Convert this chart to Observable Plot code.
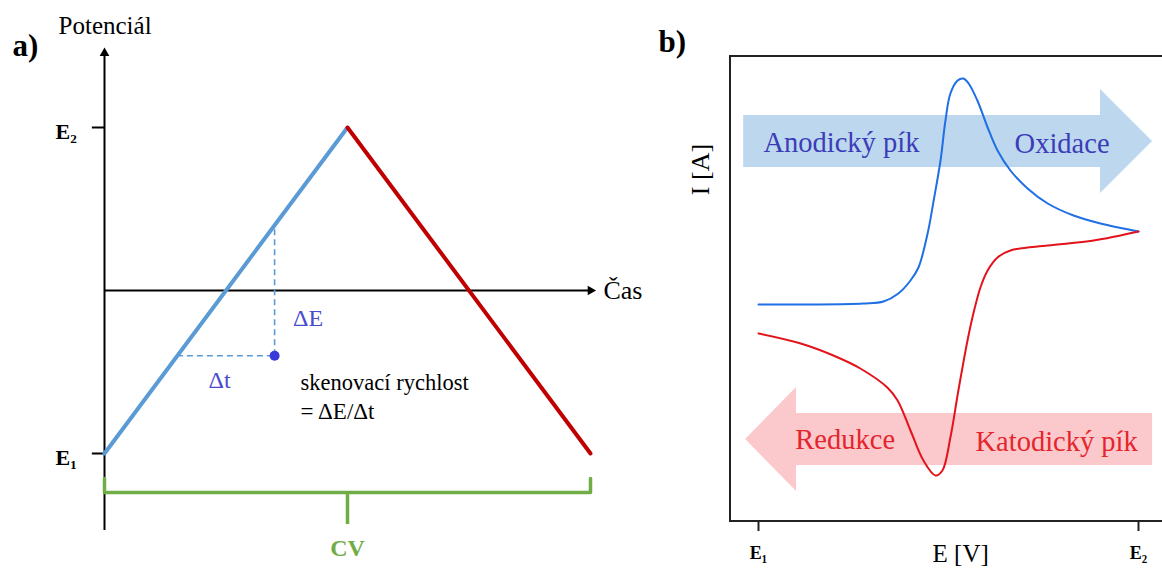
<!DOCTYPE html>
<html><head><meta charset="utf-8">
<script src="https://cdn.jsdelivr.net/npm/d3@7"></script>
<script src="https://cdn.jsdelivr.net/npm/@observablehq/plot@0.6"></script>
<style>
html,body{margin:0;padding:0;background:#fff;overflow:hidden;}
#wrap{position:relative;width:1162px;height:568px;}
#a,#b{position:absolute;top:0;}
#a{left:0;} #b{left:660px;}
#wrap svg{overflow:visible;max-width:none;font-family:"Liberation Serif",serif;}
</style></head><body><div id="wrap"><div id="a"></div><div id="b"></div></div>
<script>
// ---- panel a: potential waveform ----
const sweepTime = [0, 1, 2];
const sweepPotential = [0, 1, 0];          // E1 -> E2 -> E1
const potentialTicks = [0, 1];
const potentialTickLabels = ["E₁", "E₂"];
const slopeTime = [0.3, 0.7];              // Δt
const slopePotential = [0.3, 0.7];         // ΔE
const timeAxisLevel = 0.5;

// ---- panel b: cyclic voltammogram ----
const cvForwardE = [0, 0.137, 0.276, 0.329, 0.368, 0.4, 0.421, 0.445, 0.461, 0.479, 0.492, 0.505, 0.524, 0.539, 0.553, 0.576, 0.603, 0.629, 0.663, 0.708, 0.761, 0.829, 0.9, 1.0];
const cvForwardI = [-0.15, -0.15, -0.14, -0.12, -0.04, 0.09, 0.22, 0.56, 0.89, 1.29, 1.69, 1.96, 2.09, 2.11, 2.06, 1.89, 1.62, 1.39, 1.19, 1.01, 0.86, 0.74, 0.66, 0.58];
const cvReverseE = [1.0, 0.882, 0.761, 0.663, 0.629, 0.603, 0.584, 0.563, 0.55, 0.526, 0.505, 0.484, 0.466, 0.434, 0.4, 0.366, 0.339, 0.268, 0.197, 0.111, 0];
const cvReverseI = [0.58, 0.49, 0.44, 0.39, 0.32, 0.19, 0.02, -0.28, -0.51, -1.01, -1.48, -1.81, -1.86, -1.71, -1.41, -1.11, -0.98, -0.79, -0.66, -0.54, -0.44];
const cvTicks = [0, 1];
const cvTickLabels = ["E₁", "E₂"];

const serif = "Liberation Serif";
const lineBlue = "#5b9bd5", lineRed = "#c00000", green = "#70ad47";

const sweep = sweepTime.map((t, i) => ({t, E: sweepPotential[i]}));
const rise = sweep.slice(0, 2), fall = sweep.slice(1, 3);
const T = (opts) => ({fontFamily: serif, ...opts});

const plotA = Plot.plot({
  width: 660, height: 568,
  x: {domain: [0, 2], range: [104, 590], axis: null},
  y: {domain: [0, 1], range: [453, 127], axis: null},
  style: {background: "white"},
  marks: [
    // axes
    Plot.ruleX([0], {y1: -0.236, y2: 1.225, stroke: "black", strokeWidth: 2}),
    Plot.dot([0], {x: 0, y: 1.228, symbol: "triangle", r: 3.6, fill: "black", stroke: "none"}),
    Plot.ruleY([timeAxisLevel], {x1: 0, x2: 1.995, stroke: "black", strokeWidth: 2}),
    Plot.dot([0], {x: 2.0, y: timeAxisLevel, symbol: "triangle", r: 3.6, rotate: 90, fill: "black", stroke: "none"}),
    Plot.ruleY(potentialTicks, {y: d => d, x1: -0.05, x2: 0, stroke: "black", strokeWidth: 2}),
    Plot.text(potentialTicks, T({y: d => d, x: -0.114, text: (d, i) => potentialTickLabels[i], textAnchor: "end", fontWeight: "bold", fontSize: 22, dy: 4})),
    // sweep
    Plot.line(rise, {x: "t", y: "E", stroke: lineBlue, strokeWidth: 4}),
    Plot.line(fall, {x: "t", y: "E", stroke: lineRed, strokeWidth: 4}),
    // slope construction
    Plot.ruleX([slopeTime[1]], {x: d => d, y1: slopePotential[0], y2: slopePotential[1], stroke: lineBlue, strokeWidth: 1.6, strokeDasharray: "6,4"}),
    Plot.ruleY([slopePotential[0]], {y: d => d, x1: slopeTime[0], x2: slopeTime[1], stroke: lineBlue, strokeWidth: 1.6, strokeDasharray: "6,4"}),
    Plot.dot([0], {x: slopeTime[1], y: slopePotential[0], r: 5, fill: "#3a3ad8", stroke: "none"}),
    Plot.text(["ΔE"], T({x: 0.776, y: 0.414, text: d => d, textAnchor: "start", fill: "#4a4ad0", fontSize: 24})),
    Plot.text(["Δt"], T({x: 0.428, y: 0.224, text: d => d, textAnchor: "start", fill: "#4a4ad0", fontSize: 24})),
    Plot.text(["skenovací rychlost"], T({x: 0.807, y: 0.218, text: d => d, textAnchor: "start", fill: "black", fontSize: 22.5})),
    Plot.text(["= ΔE/Δt"], T({x: 0.807, y: 0.129, text: d => d, textAnchor: "start", fill: "black", fontSize: 23})),
    // CV bracket
    Plot.line([[0, -0.077], [0, -0.12], [2, -0.12], [2, -0.077]], {x: d => d[0], y: d => d[1], stroke: green, strokeWidth: 3.5, curve: "linear"}),
    Plot.ruleX([1], {x: d => d, y1: -0.12, y2: -0.218, stroke: green, strokeWidth: 3.5}),
    Plot.text(["CV"], T({x: 1, y: -0.291, text: d => d, fill: green, fontWeight: "bold", fontSize: 24})),
    // labels
    Plot.text(["Potenciál"], T({x: -0.189, y: 1.31, text: d => d, textAnchor: "start", fontSize: 25})),
    Plot.text(["Čas"], T({x: 2.053, y: timeAxisLevel, text: d => d, textAnchor: "start", fontSize: 26})),
    Plot.text(["a)"], T({x: -0.379, y: 1.25, text: d => d, textAnchor: "start", fontSize: 31, fontWeight: "bold"}))
  ]
});
document.getElementById("a").append(plotA);

const fwd = cvForwardE.map((E, i) => ({E, I: cvForwardI[i]}));
const rev = cvReverseE.map((E, i) => ({E, I: cvReverseI[i]}));

const plotB = Plot.plot({
  width: 502, height: 568,
  x: {domain: [0, 1], range: [98, 478], axis: null},
  y: {domain: [-2.32, 2.32], range: [521, 57], axis: null},
  style: {background: "white"},
  marks: [
    // direction arrows
    Plot.areaY([
      {x: -0.039, lo: 1.22, hi: 1.74}, {x: 0.9, lo: 1.22, hi: 1.74},
      {x: 0.9, lo: 0.96, hi: 2.0}, {x: 1.037, lo: 1.48, hi: 1.48}
    ], {x: "x", y1: "lo", y2: "hi", fill: "#bdd7ee", curve: "linear"}),
    Plot.areaY([
      {x: -0.034, lo: -1.5, hi: -1.5}, {x: 0.1, lo: -2.02, hi: -0.98},
      {x: 0.1, lo: -1.76, hi: -1.24}, {x: 1.037, lo: -1.76, hi: -1.24}
    ], {x: "x", y1: "lo", y2: "hi", fill: "#fbc9cc", curve: "linear"}),
    // frame
    Plot.rect([0], {x1: -0.0737, x2: 1.3, y1: -2.32, y2: 2.33, fill: "none", stroke: "#222", strokeWidth: 2}),
    Plot.ruleX(cvTicks, {x: d => d, y1: -2.32, y2: -2.42, stroke: "#222", strokeWidth: 2}),
    Plot.text(cvTicks, T({x: d => d, y: -2.64, text: (d, i) => cvTickLabels[i], fontWeight: "bold", fontSize: 18})),
    // curves
    Plot.line(fwd, {x: "E", y: "I", stroke: "#1f6fe5", strokeWidth: 2, curve: "catmull-rom"}),
    Plot.line(rev, {x: "E", y: "I", stroke: "#e3131b", strokeWidth: 2, curve: "catmull-rom"}),
    // texts
    Plot.text(["Anodický pík"], T({x: 0.013, y: 1.47, text: d => d, textAnchor: "start", fill: "#3b3db8", fontSize: 28.5})),
    Plot.text(["Oxidace"], T({x: 0.674, y: 1.46, text: d => d, textAnchor: "start", fill: "#3b3db8", fontSize: 28.5})),
    Plot.text(["Redukce"], T({x: 0.097, y: -1.50, text: d => d, textAnchor: "start", fill: "#e5252c", fontSize: 28.5})),
    Plot.text(["Katodický pík"], T({x: 0.571, y: -1.52, text: d => d, textAnchor: "start", fill: "#e5252c", fontSize: 28.5})),
    Plot.text(["I [A]"], T({x: -0.153, y: 1.2, text: d => d, rotate: -90, fill: "black", fontSize: 26})),
    Plot.text(["E [V]"], T({x: 0.532, y: -2.64, text: d => d, fill: "black", fontSize: 25})),
    Plot.text(["b)"], T({x: -0.263, y: 2.47, text: d => d, textAnchor: "start", fontSize: 31, fontWeight: "bold"}))
  ]
});
document.getElementById("b").append(plotB);
</script>
</body></html>
